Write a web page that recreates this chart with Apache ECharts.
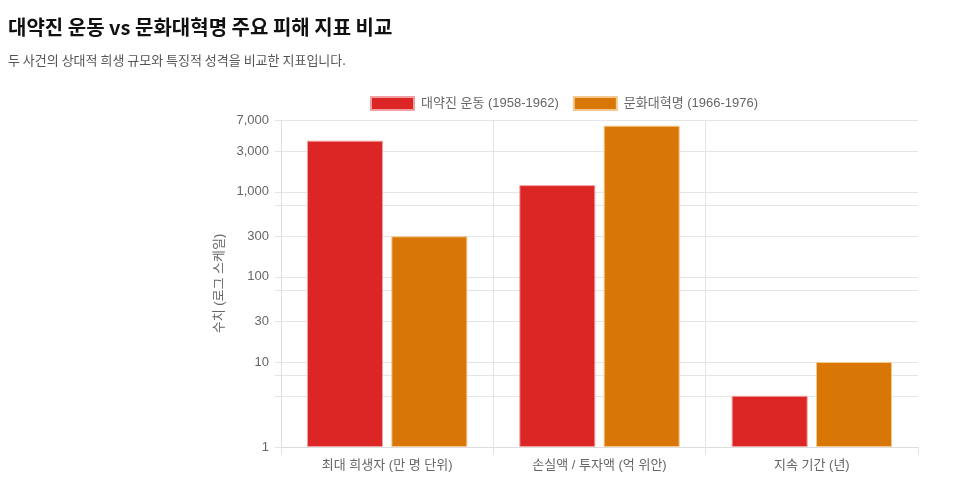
<!DOCTYPE html>
<html>
<head>
<meta charset="utf-8">
<script src="https://cdn.jsdelivr.net/npm/echarts@6/dist/echarts.min.js"></script>
<style>
html,body{margin:0;padding:0;background:#fff;}
#chart{width:975px;height:503px;}
</style>
</head>
<body>
<div id="chart"></div>
<script>
const categories = ['최대 희생자 (만 명 단위)', '손실액 / 투자액 (억 위안)', '지속 기간 (년)'];
const seriesNames = ['대약진 운동 (1958-1962)', '문화대혁명 (1966-1976)'];
const glfValues = [4000, 1200, 4];
const crValues = [300, 6000, 10];
const yLabelTicks = [1, 10, 30, 100, 300, 1000, 3000, 7000];
const yGridTicks = [1, 4, 7, 10, 30, 70, 100, 300, 700, 1000, 3000, 7000];

const font = "'Liberation Sans', 'Noto Sans CJK KR', sans-serif";
const chart = echarts.init(document.getElementById('chart'));
chart.setOption({
  animation: false,
  textStyle: { fontFamily: font },
  title: [
    { text: '대약진 운동 vs 문화대혁명 주요 피해 지표 비교', left: 3, top: 12,
      textStyle: { fontSize: 20, fontWeight: 'bold', color: '#111', fontFamily: "'Noto Sans CJK KR', sans-serif" } },
    { text: '두 사건의 상대적 희생 규모와 특징적 성격을 비교한 지표입니다.', left: 3, top: 49,
      textStyle: { fontSize: 13, fontWeight: 'normal', color: '#555', fontFamily: "'Noto Sans CJK KR', sans-serif" } }
  ],
  legend: {
    left: 365, top: 91, itemWidth: 43, itemHeight: 13, itemGap: 14, icon: 'rect',
    textStyle: { fontSize: 13, color: '#666', padding: [0, 0, 0, 2] },
    data: seriesNames
  },
  grid: { left: 281, right: 57, top: 120, bottom: 56 },
  xAxis: {
    type: 'category', data: categories,
    axisLine: { show: true, lineStyle: { color: '#ddd' } },
    axisTick: { show: true, length: 8, lineStyle: { color: '#e5e5e5' } },
    axisLabel: { fontSize: 13, color: '#666', margin: 12 },
    splitLine: { show: true, showMaxLine: false, lineStyle: { color: '#e5e5e5' } }
  },
  yAxis: {
    type: 'log', logBase: 10, min: 1, max: 7000,
    name: '수치 (로그 스케일)', nameLocation: 'middle', nameGap: 54,
    nameTextStyle: { fontSize: 13, color: '#666' },
    axisLine: { show: true, lineStyle: { color: '#ddd' } },
    axisTick: { show: true, length: 6, customValues: yGridTicks, lineStyle: { color: '#e5e5e5' } },
    axisLabel: { fontSize: 13, color: '#666', margin: 12, customValues: yLabelTicks,
      formatter: v => Number(v).toLocaleString('en-US') },
    splitLine: { show: true, lineStyle: { color: '#e5e5e5' } }
  },
  series: [
    { name: seriesNames[0], type: 'bar', data: glfValues, barWidth: 76, barGap: '11%',
      itemStyle: { color: '#dc2626', borderColor: '#f0a0a0', borderWidth: 1 } },
    { name: seriesNames[1], type: 'bar', data: crValues, barWidth: 76,
      itemStyle: { color: '#d97706', borderColor: '#f5c890', borderWidth: 1 } }
  ]
});
</script>
</body>
</html>
